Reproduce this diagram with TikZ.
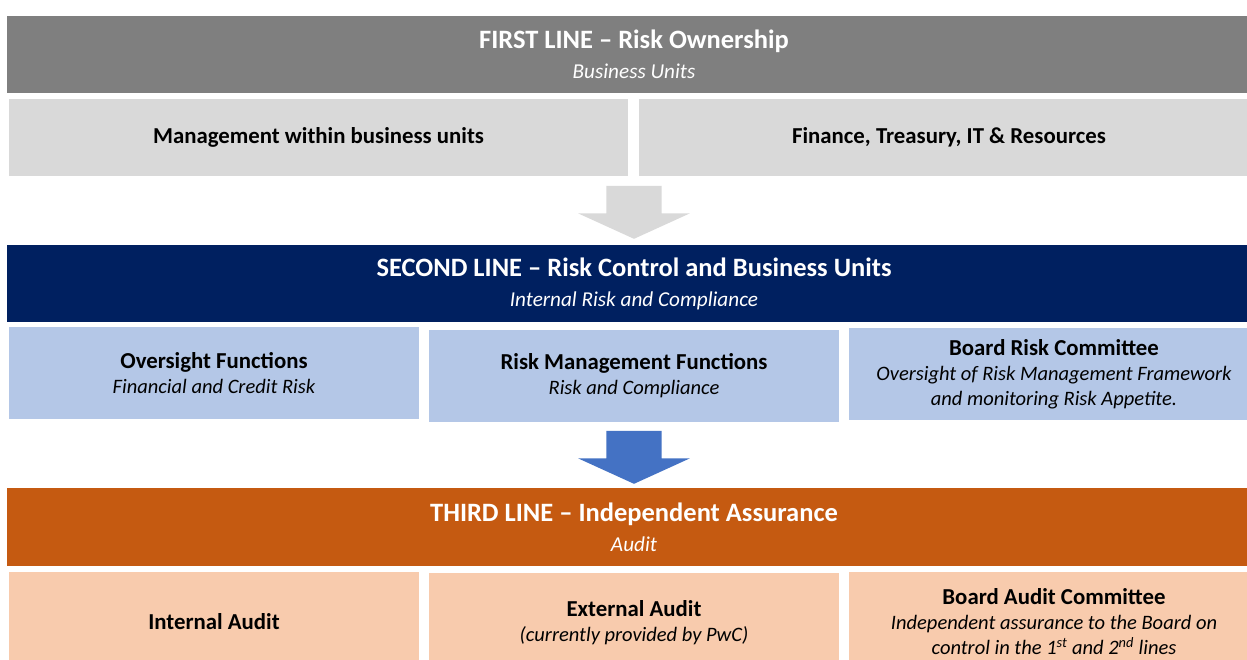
\documentclass[tikz,border=0pt]{standalone}
\usepackage{fontspec}
\setmainfont{Carlito}
\usepackage{tikz}
\usetikzlibrary{shapes.arrows}
\definecolor{darkgrey}{HTML}{7F7F7F}
\definecolor{lightgrey}{HTML}{D9D9D9}
\definecolor{navy}{HTML}{002060}
\definecolor{paleblue}{HTML}{B4C7E7}
\definecolor{midblue}{HTML}{4472C4}
\definecolor{burnt}{HTML}{C55A11}
\definecolor{peach}{HTML}{F8CBAD}
\newcommand{\headfont}{\fontsize{26.5}{30}\selectfont\bfseries}
\newcommand{\headsub}{\fontsize{21.2}{30}\selectfont\itshape}
\newcommand{\cellfont}{\fontsize{22.8}{25}\selectfont\bfseries}
\newcommand{\cellsub}{\fontsize{20.5}{25}\selectfont\itshape}

\begin{document}
\begin{tikzpicture}[x=1pt,y=-1pt,
bar/.style={minimum width=1254pt,minimum height=77pt,inner sep=0pt,text=white,align=center,
font=\fontsize{21.2}{30}\selectfont},
cell/.style={minimum height=77pt,inner sep=0pt,align=center,text=black,font=\fontsize{20.5}{25}\selectfont},
third/.style={cell,minimum width=410pt,minimum height=92pt},
downarrow/.style={single arrow,rotate=-90,inner xsep=0pt,inner ysep=27.5pt,minimum height=53pt,
single arrow head extend=28pt,single arrow tip angle=131}]
\useasboundingbox (0,0) rectangle (1247,659);
\fill[white] (0,0) rectangle (1247,659);

\node (l1) at (634,54.5)[bar,fill=darkgrey] {{\headfont FIRST LINE -- Risk Ownership}\\{\headsub Business Units}};
\node (m1) at (318.5,137.5)[cell,fill=lightgrey,minimum width=619pt] {\cellfont Management within business units};
\node (m2) at (949,137.5)[cell,fill=lightgrey,minimum width=620pt] {\cellfont Finance, Treasury, IT \& Resources};

\node (a1) at (634,206)[downarrow,fill=lightgrey] {};

\node (l2) at (634,283.5)[bar,fill=navy] {{\headfont SECOND LINE -- Risk Control and Business Units}\\{\headsub Internal Risk and Compliance}};
\node (o1) at (214,373)[third,fill=paleblue] {{\cellfont Oversight Functions}\\{\cellsub Financial and Credit Risk}};
\node (o2) at (634,375.5)[third,fill=paleblue] {{\cellfont Risk Management Functions}\\{\cellsub Risk and Compliance}};
\node (o3) at (1054,374)[third,fill=paleblue] {{\cellfont Board Risk Committee}\\{\cellsub Oversight of Risk Management Framework}\\{\cellsub and monitoring Risk Appetite.}};

\node (a2) at (634,451)[downarrow,fill=midblue] {};

\node (l3) at (634,527)[bar,fill=burnt,minimum height=78pt] {{\headfont THIRD LINE -- Independent Assurance}\\{\headsub Audit}};
\node (i1) at (214,622)[third,fill=peach,minimum height=100pt] {\cellfont Internal Audit};
\node (i2) at (634,622.5)[third,fill=peach,minimum height=99pt] {{\cellfont External Audit}\\{\cellsub (currently provided by PwC)}};
\node (i3) at (1054,622)[third,fill=peach,minimum height=100pt] {{\cellfont Board Audit Committee}\\{\cellsub Independent assurance to the Board on}\\{\cellsub control in the 1\textsuperscript{st} and 2\textsuperscript{nd} lines}};
\end{tikzpicture}
\end{document}
